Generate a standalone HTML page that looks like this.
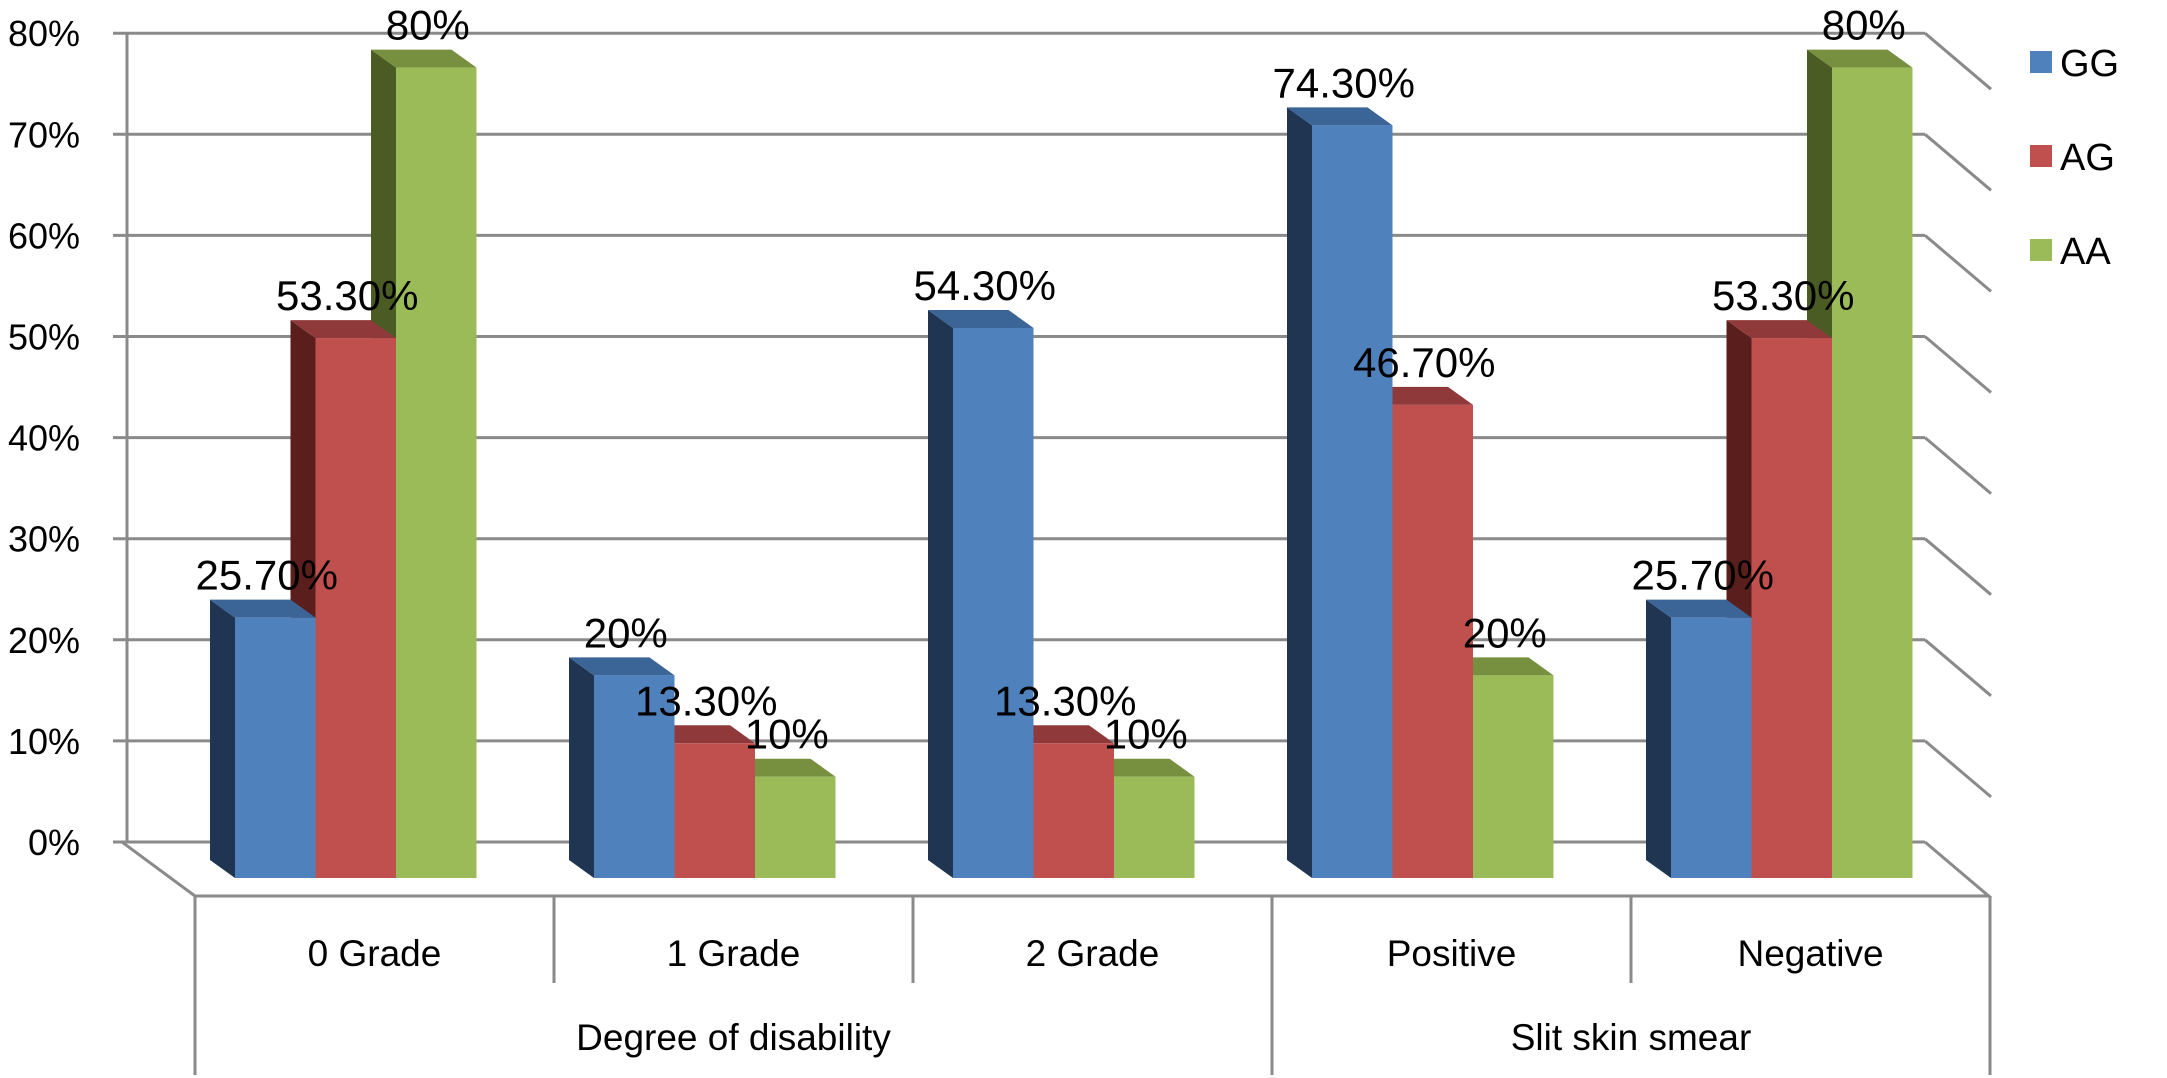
<!DOCTYPE html>
<html><head><meta charset="utf-8"><style>
html,body{margin:0;padding:0;background:#fff;}
svg{display:block;}
text{font-family:"Liberation Sans",sans-serif;fill:#000;}
</style></head><body>
<svg id="chart" width="2167" height="1078" viewBox="0 0 2167 1078" xmlns="http://www.w3.org/2000/svg">
<g id="grid"></g>
<g id="bars"></g>
<g id="axis"></g>
<g id="legend"></g>
</svg>
<script>
const categories = ["0 Grade","1 Grade","2 Grade","Positive","Negative"];
const groupLabels = ["Degree  of disability","Slit skin smear"];
const seriesNames = ["GG","AG","AA"];
const ggValues = [25.7, 20, 54.3, 74.3, 25.7];
const agValues = [53.3, 13.3, 13.3, 46.7, 53.3];
const aaValues = [80, 10, 10, 20, 80];
const ggLabels = ["25.70%","20%","54.30%","74.30%","25.70%"];
const agLabels = ["53.30%","13.30%","13.30%","46.70%","53.30%"];
const aaLabels = ["80%","10%","10%","20%","80%"];
const yTicks = [0,10,20,30,40,50,60,70,80];
const yTickLabels = ["0%","10%","20%","30%","40%","50%","60%","70%","80%"];

const NS="http://www.w3.org/2000/svg";
function mk(tag, attrs, parent, txt){const e=document.createElementNS(NS,tag);for(const k in attrs)e.setAttribute(k,attrs[k]);if(txt!==undefined)e.textContent=txt;parent.appendChild(e);return e;}
const wallLeft=127, wallRight=1925, wall0=842, wallScale=101.1/10;
const yWall = v => wall0 - v*wallScale;
const barBase=878, barScale=10.13;
const yBar = v => barBase - v*barScale;
const groupPitch=359, firstBarX=235, barW=80.5;
const xBar = (c,s) => firstBarX + c*groupPitch + s*barW;
const DX=-25, DY=-18;
const floorY=896, floorL=195, floorR=1990;
const xDiv = i => floorL + i*groupPitch;

const grid=document.getElementById('grid');
const gc="#8a8a8a";
yTicks.forEach((t,i)=>{
  const y=yWall(t);
  const l=mk('line',{x1:113,y1:y,x2:wallRight,y2:y,stroke:gc,'stroke-width':3},grid);
  
  
  const d=mk('line',{x1:wallRight,y1:y,x2:wallRight+66,y2:y+56,stroke:gc,'stroke-width':3},grid);
  
  
  const tx=mk('text',{x:80,y:y+13,'font-size':36,'text-anchor':'end'},grid,yTickLabels[i]);
  
  
});
const wl=mk('line',{x1:wallLeft,y1:yWall(80),x2:wallLeft,y2:wall0,stroke:gc,'stroke-width':3},grid);


const fl=mk('line',{x1:wallLeft-5,y1:wall0,x2:floorL,y2:floorY,stroke:gc,'stroke-width':3},grid);



const colors=[["#4F81BD","#1F3552","#3B6497"],["#C0504D","#5A1F1D","#90393A"],["#9BBB59","#4B5B24","#76903F"]];
const vals=[ggValues,agValues,aaValues];
const labs=[ggLabels,agLabels,aaLabels];
const bars=document.getElementById('bars');
const labelLayer=mk('g',{},bars);
for(let c=0;c<categories.length;c++){
  for(let s=2;s>=0;s--){
    const v=vals[s][c];
    const x=xBar(c,s), yt=yBar(v);
    const g=mk('g',{},bars);
    
    
    bars.insertBefore(g,labelLayer);
    mk('polygon',{points:`${x},${yt} ${x+DX},${yt+DY} ${x+DX},${barBase+DY} ${x},${barBase}`,fill:colors[s][1]},g);
    mk('polygon',{points:`${x},${yt} ${x+DX},${yt+DY} ${x+barW+DX},${yt+DY} ${x+barW},${yt}`,fill:colors[s][2]},g);
    mk('rect',{x:x,y:yt,width:barW,height:barBase-yt,fill:colors[s][0]},g);
    const t=mk('text',{x:x+barW/2+DX/2+4,y:yt+DY-10,'font-size':42,'text-anchor':'middle'},labelLayer,labs[s][c]);
    
    
  }
}

const axis=document.getElementById('axis');
const ff=mk('line',{x1:floorL,y1:floorY,x2:floorR,y2:floorY,stroke:gc,'stroke-width':3},axis);


const longDivs=[0,3,5];
for(let i=0;i<=5;i++){
  const x=xDiv(i);
  const l=mk('line',{x1:x,y1:floorY,x2:x,y2:longDivs.includes(i)?1075:983,stroke:gc,'stroke-width':3},axis);
  
  
}
categories.forEach((c,i)=>{
  const t=mk('text',{x:(xDiv(i)+xDiv(i+1))/2,y:966,'font-size':37,'text-anchor':'middle'},axis,c);
  
  
});
const gx=[(xDiv(0)+xDiv(3))/2,(xDiv(3)+xDiv(5))/2];
groupLabels.forEach((c,i)=>{
  const t=mk('text',{x:gx[i],y:1050,'font-size':37,'text-anchor':'middle','xml:space':'preserve'},axis,c);
  
  
});

const legend=document.getElementById('legend');
seriesNames.forEach((n,i)=>{
  const y=51+i*94;
  const g=mk('g',{},legend);
  
  
  mk('rect',{x:2030,y:y,width:22,height:22,fill:colors[i][0]},g);
  mk('text',{x:2060,y:y+25,'font-size':38},g,n);
});
</script>
</body></html>
